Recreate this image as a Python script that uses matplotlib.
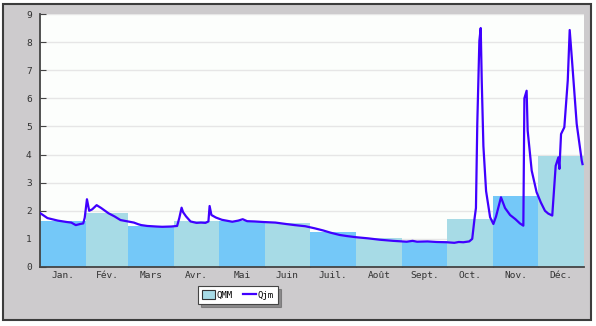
import matplotlib
matplotlib.use("Agg")
import matplotlib.pyplot as plt
from matplotlib.patches import Rectangle, Patch
from matplotlib.lines import Line2D
import numpy as np

months = ["Jan.", "Fév.", "Mars", "Avr.", "Mai", "Juin", "Juil.", "Août", "Sept.", "Oct.", "Nov.", "Déc."]
month_days = [31, 28, 31, 30, 31, 30, 31, 31, 30, 31, 30, 31]
qmm = [1.65, 1.93, 1.46, 1.65, 1.65, 1.55, 1.26, 1.03, 0.92, 1.70, 2.52, 3.95]

qjm_day = [0, 5, 12, 18, 21, 24, 27, 29, 30, 31.5, 33, 35, 38, 41, 46, 50, 54, 59, 63, 66, 68, 72, 78, 82,
           88, 92, 93.5, 95, 96, 98, 101, 105, 108, 111, 113, 113.8, 115, 118, 122, 126, 129, 133, 136, 139,
           144, 150, 158, 165, 171, 178, 184, 190, 195, 201, 206, 212, 220, 228, 237, 246, 250, 253, 260,
           266, 273, 278, 281, 284, 288, 290, 291.5, 292.5, 293.4, 294.8, 295.7, 296.4, 297.5, 299.3, 302,
           304.2, 306, 309.3, 312, 315.4, 319, 322, 324.3, 325, 326.5, 327.2, 329.9, 333.2, 336, 338.8, 341,
           343.7, 346, 347.8, 348.5, 349.6, 351.8, 354.1, 355.4, 356.8, 360.1, 363.5, 364]
qjm_val = [1.92, 1.74, 1.65, 1.60, 1.58, 1.49, 1.53, 1.55, 1.75, 2.41, 2.0, 2.05, 2.2, 2.1, 1.91, 1.80, 1.67,
           1.62, 1.58, 1.52, 1.49, 1.46, 1.44, 1.43, 1.44, 1.46, 1.75, 2.11, 1.95, 1.80, 1.62, 1.57, 1.58,
           1.57, 1.62, 2.17, 1.85, 1.76, 1.68, 1.64, 1.61, 1.65, 1.70, 1.63, 1.62, 1.60, 1.58, 1.53, 1.49,
           1.45, 1.38, 1.30, 1.22, 1.14, 1.10, 1.06, 1.02, 0.97, 0.93, 0.90, 0.93, 0.90, 0.91, 0.89, 0.88,
           0.86, 0.89, 0.88, 0.91, 1.0, 1.7, 2.1, 5.1, 8.05, 8.5, 6.6, 4.3, 2.7, 1.77, 1.53, 1.8, 2.48, 2.1,
           1.85, 1.7, 1.55, 1.47, 6.0, 6.27, 4.85, 3.43, 2.66, 2.3, 2.0, 1.9, 1.83, 3.6, 3.9, 3.49, 4.73,
           4.97, 6.63, 8.43, 7.46, 5.09, 3.78, 3.66]

dark_bar = "#74c8f8"
light_bar = "#a7dbe6"
line_col = "#4000ff"
mono = "DejaVu Sans Mono"

fig = plt.figure(figsize=(5.96, 3.26), dpi=100, facecolor="white")
fig.patches.append(Rectangle((3 / 596, 1 - 320 / 326), 588 / 596, 316 / 326, transform=fig.transFigure,
                             facecolor="#cdcbcd", edgecolor="#3c3c3c", lw=1.5, zorder=-10))

ax = fig.add_axes([40 / 596, 1 - 267 / 326, 544 / 596, 253 / 326])
ax.set_facecolor("#fcfefc")

edges = np.concatenate([[0], np.cumsum(month_days)])
colors = [dark_bar if i % 2 == 0 else light_bar for i in range(12)]
ax.bar(edges[:-1], qmm, width=month_days, align="edge", color=colors, edgecolor="none", zorder=2)
ax.plot(qjm_day, qjm_val, color=line_col, lw=1.6, zorder=3, solid_joinstyle="round")

ax.set_xlim(0, 365)
ax.set_ylim(0, 9)
ax.set_yticks(range(0, 10))
ax.yaxis.grid(True, color="#e6e6e6", lw=1, zorder=1)
ax.set_axisbelow(True)

ax.set_xticks(edges[1:-1])
ax.set_xticklabels([])
ax.set_xticks((edges[:-1] + edges[1:]) / 2, minor=True)
ax.set_xticklabels(months, minor=True, fontsize=6.8, family=mono, color="#333333")
ax.tick_params(axis="x", which="major", direction="in", length=4, color="#444444")
ax.tick_params(axis="x", which="minor", length=0, pad=3)
ax.tick_params(axis="y", direction="in", length=4, color="#444444", labelsize=6.8, pad=6,
               labelcolor="#333333")
for lab in ax.get_yticklabels():
    lab.set_family(mono)

for s in ["top", "right"]:
    ax.spines[s].set_visible(False)
for s in ["left", "bottom"]:
    ax.spines[s].set_color("#444444")
    ax.spines[s].set_linewidth(1.3)

handles = [Patch(facecolor=light_bar, edgecolor="#333333", lw=0.8),
           Line2D([], [], color=line_col, lw=1.6)]
leg = fig.legend(handles, ["QMM", "Qjm"], loc="center", bbox_to_anchor=(238 / 596, 1 - 295 / 326),
                 ncol=2, prop={"family": mono, "size": 6.5}, frameon=True, fancybox=False, shadow=True,
                 handlelength=1.4, handleheight=1.1, handletextpad=0.2, columnspacing=1.2,
                 borderpad=0.45)
leg.get_frame().set_edgecolor("#444444")
leg.get_frame().set_linewidth(0.8)

fig.savefig("out.png", dpi=100, facecolor="white")
